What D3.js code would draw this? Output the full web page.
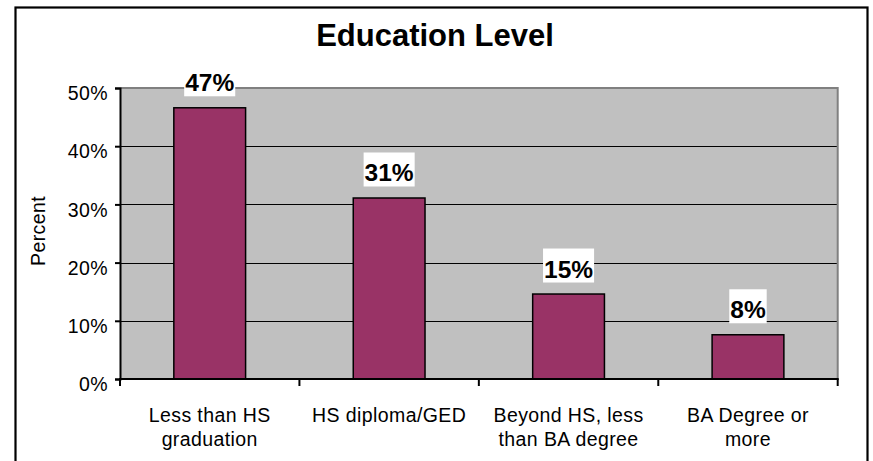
<!DOCTYPE html>
<html>
<head>
<meta charset="utf-8">
<script src="https://cdn.jsdelivr.net/npm/d3@7"></script>
<style>
  html, body { margin: 0; padding: 0; background: #fff; }
  svg { display: block; font-family: "Liberation Sans", Arial, sans-serif; }
</style>
</head>
<body>
<svg id="chart" width="873" height="461"></svg>
<script>
// Education level distribution (percent of respondents)
const categories = [
  ["Less than HS", "graduation"],
  ["HS diploma/GED"],
  ["Beyond HS, less", "than BA degree"],
  ["BA Degree or", "more"]
];
const values = [46.6, 31.1, 14.6, 7.6];
const yTicks = [0, 10, 20, 30, 40, 50];
const chartTitle = "Education Level";
const yTitle = "Percent";

const svg = d3.select("#chart");

const plot = { left: 120, right: 837.7, top: 88, bottom: 379 };
const labelFont = 19.5;
const labelSpacing = 0.4;

const x = d3.scaleBand()
  .domain(d3.range(categories.length))
  .range([plot.left, plot.right])
  .paddingInner(0).paddingOuter(0);

const y = d3.scaleLinear()
  .domain([0, 50])
  .range([plot.bottom, plot.top]);

// outer chart frame
svg.append("rect")
  .attr("x", 15.5).attr("y", 7.5)
  .attr("width", 852).attr("height", 480)
  .attr("fill", "#fff").attr("stroke", "#000").attr("stroke-width", 2.2);

// title
svg.append("text")
  .attr("x", 435).attr("y", 46)
  .attr("text-anchor", "middle")
  .attr("font-weight", "bold")
  .attr("font-size", 31)
  .text(chartTitle);

// plot background
svg.append("rect")
  .attr("x", plot.left).attr("y", plot.top)
  .attr("width", plot.right - plot.left).attr("height", plot.bottom - plot.top)
  .attr("fill", "#c0c0c0");

// horizontal gridlines
svg.append("g")
  .selectAll("line")
  .data(yTicks.filter(d => d > 0 && d < 50))
  .join("line")
  .attr("x1", plot.left).attr("x2", plot.right)
  .attr("y1", d => Math.round(y(d)) + 0.5).attr("y2", d => Math.round(y(d)) + 0.5)
  .attr("stroke", "#000").attr("stroke-width", 1);

// top and right plot border
svg.append("path")
  .attr("d", `M${plot.left},${plot.top}H${plot.right}V${plot.bottom}`)
  .attr("fill", "none").attr("stroke", "#808080").attr("stroke-width", 2);

// bars
const barW = x.bandwidth() * 0.4;
svg.append("g")
  .selectAll("rect")
  .data(values)
  .join("rect")
  .attr("x", (d, i) => x(i) + (x.bandwidth() - barW) / 2)
  .attr("y", d => y(d))
  .attr("width", barW)
  .attr("height", d => y(0) - y(d))
  .attr("fill", "#993366")
  .attr("stroke", "#000").attr("stroke-width", 1.5);

// y axis
const yAxis = d3.axisLeft(y)
  .tickValues(yTicks)
  .tickSize(5)
  .tickPadding(7)
  .tickFormat(d => d + "%");
const gy = svg.append("g")
  .attr("transform", `translate(${plot.left},0)`)
  .call(yAxis);
gy.select(".domain").attr("stroke", "#000").attr("stroke-width", 2);
gy.selectAll(".tick line").attr("stroke", "#000").attr("stroke-width", 2);
gy.selectAll(".tick text")
  .attr("font-family", "Liberation Sans, Arial, sans-serif")
  .attr("font-size", labelFont)
  .attr("letter-spacing", labelSpacing)
  .attr("fill", "#000")
  .attr("dy", "0.6em");

// x axis line with ticks at category boundaries
const boundaries = d3.range(categories.length + 1).map(i => plot.left + i * x.step());
const gx = svg.append("g");
gx.append("line")
  .attr("x1", plot.left - 1).attr("x2", plot.right + 1)
  .attr("y1", plot.bottom).attr("y2", plot.bottom)
  .attr("stroke", "#000").attr("stroke-width", 2);
gx.selectAll("line.tk")
  .data(boundaries)
  .join("line").attr("class", "tk")
  .attr("x1", d => d).attr("x2", d => d)
  .attr("y1", plot.bottom).attr("y2", plot.bottom + 7)
  .attr("stroke", "#000").attr("stroke-width", 2);

// category labels
const catG = svg.append("g")
  .selectAll("text")
  .data(categories)
  .join("text")
  .attr("x", (d, i) => x(i) + x.bandwidth() / 2)
  .attr("y", 422)
  .attr("text-anchor", "middle")
  .attr("font-size", labelFont)
  .attr("letter-spacing", labelSpacing);
catG.selectAll("tspan")
  .data(d => d)
  .join("tspan")
  .attr("x", function () { return d3.select(this.parentNode).attr("x"); })
  .attr("dy", (d, i) => i === 0 ? 0 : 24)
  .text(d => d);

// y axis title
svg.append("text")
  .attr("transform", "translate(45,231) rotate(-90)")
  .attr("text-anchor", "middle")
  .attr("font-size", labelFont)
  .attr("letter-spacing", labelSpacing)
  .text(yTitle);

// value labels with white backing boxes
const labels = svg.append("g")
  .selectAll("g")
  .data(values)
  .join("g")
  .attr("transform", (d, i) => `translate(${x(i) + x.bandwidth() / 2},${y(d) - 16.5})`);
labels.append("rect").attr("fill", "#fff");
labels.append("text")
  .attr("text-anchor", "middle")
  .attr("font-weight", "bold")
  .attr("font-size", 24.5)
  .text(d => Math.round(d) + "%");
labels.each(function () {
  const g = d3.select(this);
  const w = g.select("text").node().getComputedTextLength();
  g.select("rect")
    .attr("x", -w / 2 - 1).attr("y", -29)
    .attr("width", w + 2).attr("height", 34);
});
</script>
</body>
</html>
